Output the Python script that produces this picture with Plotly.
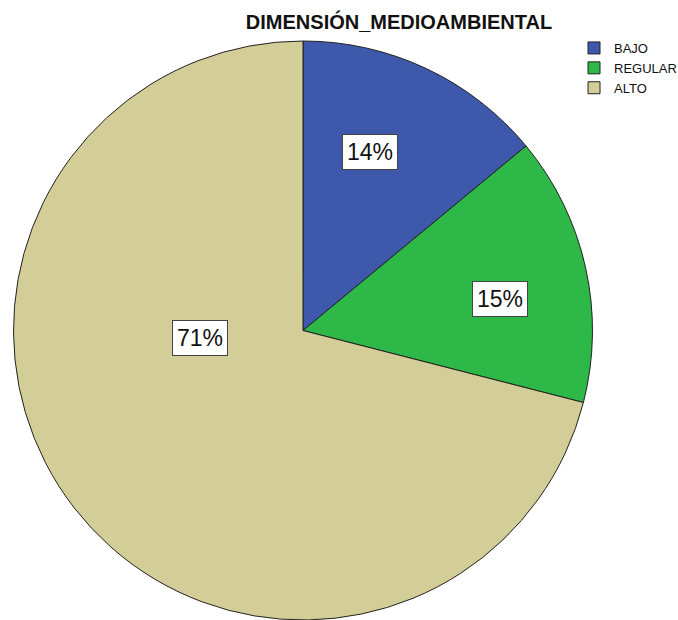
import math
import plotly.graph_objects as go

# Share of respondents per level of the environmental dimension (%)
categories = ["BAJO", "REGULAR", "ALTO"]
percentages = [14, 15, 71]
slice_colors = ["#3E58AC", "#2EB848", "#D3CE97"]

# Where each percentage box sits: angle from 12 o'clock (clockwise, deg)
# and distance from the centre as a fraction of the radius
label_angle = [20.5, 81, 266]
label_radius = [0.66, 0.69, 0.357]

W, H = 678, 620
margin = dict(l=11, r=83, t=41, b=0, autoexpand=False)
plot_w = W - margin["l"] - margin["r"]
plot_h = H - margin["t"] - margin["b"]
radius_px = min(plot_w, plot_h) / 2

fig = go.Figure(
    go.Pie(
        labels=categories,
        values=percentages,
        sort=False,
        direction="clockwise",
        rotation=0,
        marker=dict(colors=slice_colors, line=dict(color="#222222", width=1)),
        textinfo="none",
        hoverinfo="label+percent",
        domain=dict(x=[0, 1], y=[0, 1]),
    )
)

annotations = []
for pct, ang, rf in zip(percentages, label_angle, label_radius):
    a = math.radians(ang)
    dx = rf * radius_px * math.sin(a)
    dy = rf * radius_px * math.cos(a)
    annotations.append(
        dict(
            x=0.5 + dx / plot_w,
            y=0.5 + dy / plot_h,
            xref="paper",
            yref="paper",
            xanchor="center",
            yanchor="middle",
            text=f"{pct}%",
            showarrow=False,
            font=dict(family="Liberation Sans, Arial", size=23, color="#111111"),
            bgcolor="white",
            bordercolor="#444444",
            borderwidth=1,
            borderpad=4,
        )
    )

fig.update_layout(
    width=W,
    height=H,
    margin=margin,
    paper_bgcolor="white",
    plot_bgcolor="white",
    title=dict(
        text="<b>DIMENSIÓN_MEDIOAMBIENTAL</b>",
        x=399 / W,
        xanchor="center",
        y=1 - 22 / H,
        yanchor="middle",
        font=dict(family="Liberation Sans, Arial", size=20, color="#111111"),
    ),
    legend=dict(
        x=(574 - margin["l"]) / plot_w,
        xanchor="left",
        y=1 + 8 / plot_h,
        yanchor="top",
        font=dict(family="Liberation Sans, Arial", size=13, color="#111111"),
        bgcolor="rgba(0,0,0,0)",
        traceorder="normal",
    ),
    annotations=annotations,
    showlegend=True,
)

fig.write_html("out.html")
